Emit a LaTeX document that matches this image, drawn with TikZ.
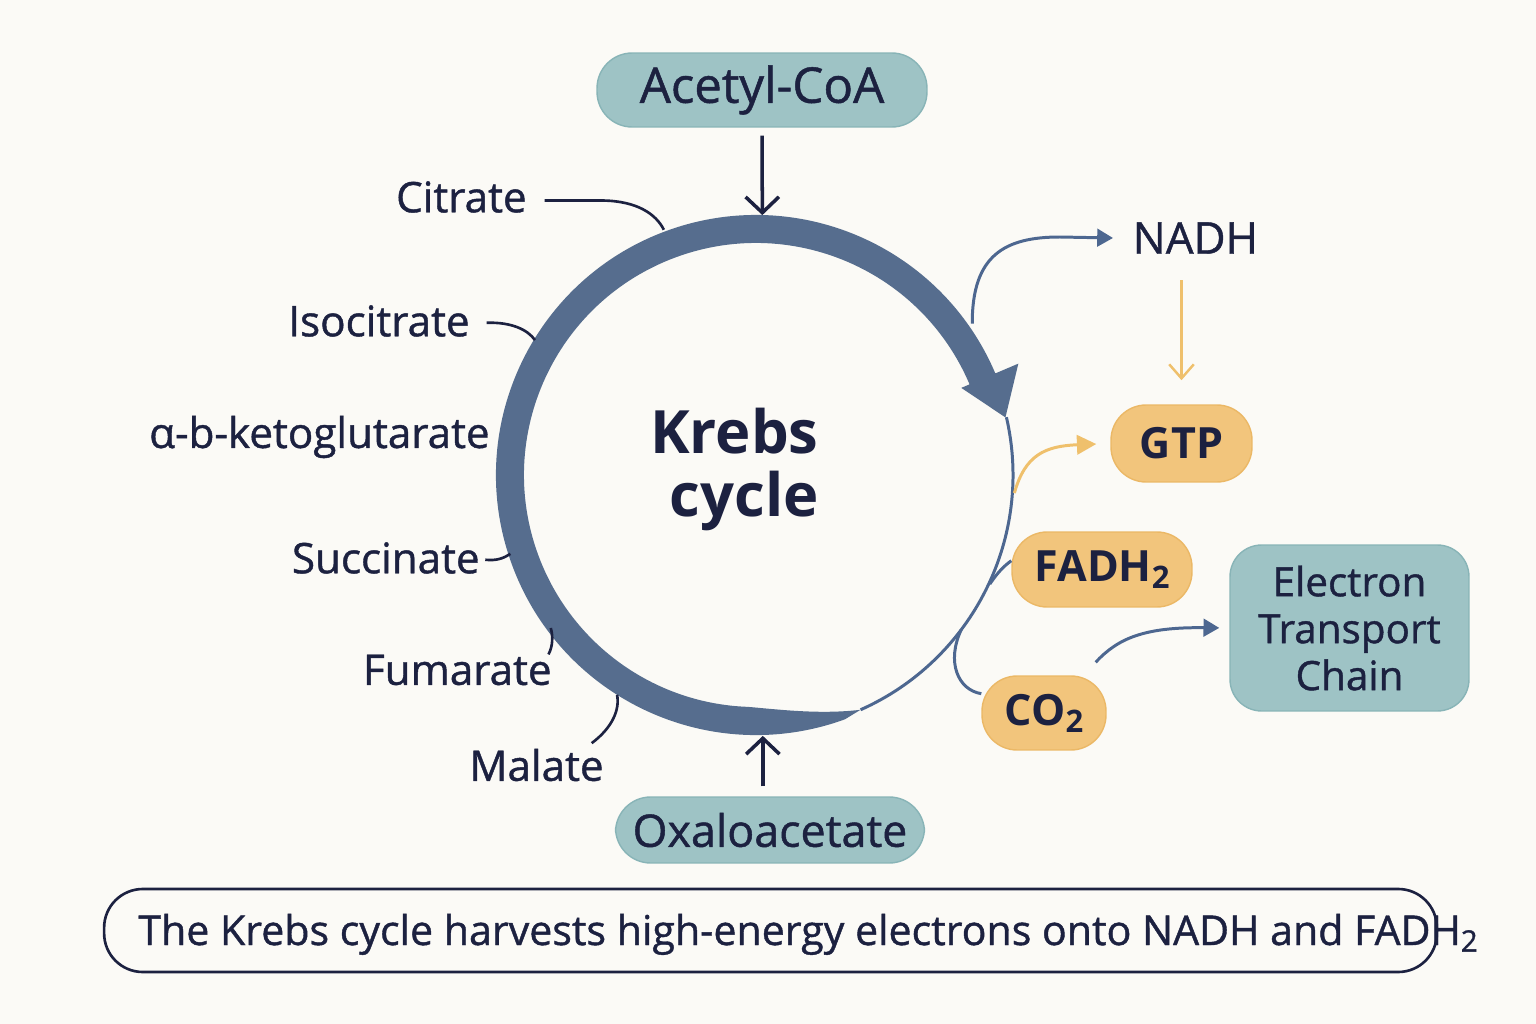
\documentclass[tikz,border=0pt]{standalone}
\usepackage{fontspec}
\setmainfont{Open Sans}[UprightFeatures={FakeBold=1}]
\usepackage{tikz}
\usetikzlibrary{arrows.meta,positioning,calc}
\definecolor{pageBg}{HTML}{FBFAF6}
\definecolor{krebsNavy}{HTML}{1C2140}
\definecolor{krebsRing}{HTML}{566D8E}
\definecolor{krebsSlate}{HTML}{4D6790}
\definecolor{krebsTeal}{HTML}{9EC3C5}
\definecolor{krebsTealEdge}{HTML}{88B4B7}
\definecolor{krebsOrange}{HTML}{F2C57C}
\definecolor{krebsOrangeEdge}{HTML}{EBB866}
\definecolor{krebsGold}{HTML}{EFC06C}
\newcommand{\subtwo}{\raisebox{-0.3ex}{\scalebox{0.72}{2}}}

\begin{document}
\begin{tikzpicture}[x=0.02cm, y=-0.02cm,
  every node/.style={text=krebsNavy},
  pill/.style={rounded corners=20pt,align=center,inner sep=0pt},
  tealbox/.style={pill,fill=krebsTeal,draw=krebsTealEdge,line width=0.8pt},
  orangebox/.style={pill,fill=krebsOrange,draw=krebsOrangeEdge,line width=0.8pt,font=\bfseries\fontsize{24.5}{28}\selectfont},
  metab/.style={inner sep=0pt,anchor=east,font=\fontsize{24}{28}\selectfont},
  leadline/.style={draw=krebsNavy,line width=1.5pt},
  feed/.style={-{Straight Barb[length=9pt,width=19pt]},draw=krebsNavy,line width=2pt},
  goldfeed/.style={-{Straight Barb[length=8pt,width=14pt]},draw=krebsGold,line width=1.4pt},
  prod/.style={-{Triangle[length=9pt,width=10pt]},draw=krebsSlate,line width=1.7pt},
  goldprod/.style={-{Triangle[length=11pt,width=11pt]},draw=krebsGold,line width=1.7pt},
  thinring/.style={draw=krebsSlate,line width=1.7pt}
]
  \useasboundingbox (0,0) rectangle (1536,1024);
  \fill[pageBg] (0,0) rectangle (1536,1024);

  % cycle ring
  \begin{scope}[shift={(756,475)}]
    \fill[krebsRing] (70:260) arc[start angle=70,end angle=337,radius=260]
      -- (337:285) -- (347:256) -- (337:223) -- (337:232)
      arc[start angle=337,end angle=92,radius=232]
      .. controls (84:236) and (75:248) .. (66:257) -- cycle;
    \draw[thinring] (347:257) arc[start angle=347,end angle=426,radius=257];
    \coordinate (ringTop) at (-88.6:260);
    \coordinate (ringBot) at (88.5:261);
    \coordinate (nadhOut) at (-35:264);
    \coordinate (gtpOut) at (4:259);
    \coordinate (fadhOut) at (25:258);
    \coordinate (coOut) at (37:257);
    \coordinate (citOn) at (-110.6:262);
    \coordinate (isoOn) at (-148.6:259);
    \coordinate (succOn) at (162.2:258);
    \coordinate (fumOn) at (143.3:256);
    \coordinate (malOn) at (122.3:260);
  \end{scope}

  \node[inner sep=0pt,anchor=north east,align=right,font=\bfseries\fontsize{34}{36}\selectfont] (krebs) at (819,408) {Krebs\\cycle};

  \node[tealbox,minimum width=6.6cm,minimum height=1.48cm,font=\fontsize{28}{32}\selectfont] (acetyl) at (762,90) {Acetyl-CoA};
  \node[tealbox,minimum width=6.18cm,minimum height=1.32cm,font=\fontsize{25.5}{30}\selectfont] (oxalo) at (770,830) {Oxaloacetate};

  \draw[feed,shorten <=4.5pt] (acetyl.south) -- (ringTop);
  \draw[feed,shorten <=5.7pt] (ringBot |- oxalo.north) -- (ringBot);

  % intermediates
  \node[metab] (citrate) at (527,197) {Citrate};
  \node[metab] (isocit) at (470,321) {Isocitrate};
  \node[metab] (akg) at (490,437) {α-b-ketoglutarate};
  \node[metab] (succ) at (480,558) {Succinate};
  \node[metab] (fum) at (552,670) {Fumarate};
  \node[metab] (mal) at (604,765) {Malate};

  \draw[leadline] ([xshift=10pt,yshift=-2pt]citrate.east) -- ++(58,0) .. controls (637,201) and (656,214) .. (citOn);
  \draw[leadline] ([xshift=9.5pt,yshift=-1pt]isocit.east) .. controls (512,322) and (528,330) .. (isoOn);
  \draw[leadline] ([xshift=3pt,yshift=-1pt]succ.east) .. controls (497,561) and (504,558) .. (succOn);
  \draw[leadline] ([xshift=-2pt]fum.north east) .. controls (553,646) and (553,636) .. (fumOn);
  \draw[leadline] ([xshift=-7pt,yshift=3pt]mal.north east) .. controls (612,728) and (620,710) .. (malOn);

  % products
  \node[inner sep=11pt,anchor=west,font=\fontsize{25}{28}\selectfont] (nadh) at (1113,238) {NADH};
  \node[orangebox,minimum width=2.82cm,minimum height=1.54cm] (gtp) at (1181.5,443.5) {GTP};
  \node[orangebox,minimum width=3.6cm,minimum height=1.5cm] (fadh) at (1102,569.5) {FADH\subtwo};
  \node[orangebox,minimum width=2.48cm,minimum height=1.48cm] (co2) at (1044,713) {CO\subtwo};
  \node[tealbox,rounded corners=18pt,minimum width=4.78cm,minimum height=3.32cm,font=\fontsize{23}{26.7}\selectfont] (etc) at (1349.5,628) {Electron\\Transport\\Chain};
  \coordinate (co2Tail) at ([shift={(-11,-13)}]co2.north east);

  \draw[prod] (nadhOut) .. controls (972,255) and (1005,237) .. (1060,237) -- (nadh.west);
  \draw[goldfeed,shorten <=4pt,shorten >=13.7pt] (nadh.south -| gtp.north) -- (gtp.north);
  \draw[goldprod,shorten >=8pt] (gtpOut) .. controls (1025,455) and (1045,446) .. (gtp.west);
  \draw[thinring] (fadhOut) .. controls (998,572) and (1004,566) .. ([yshift=5pt]fadh.west);
  \draw[thinring] (coOut) .. controls (946,662) and (958,690) .. ([yshift=11pt]co2.west);
  \draw[prod,shorten >=5.7pt] (co2Tail) .. controls (1118,638) and (1145,627) .. (etc.west);

  % summary
  \node[draw=krebsNavy,line width=1.5pt,rounded corners=22pt,minimum width=26.66cm,minimum height=1.66cm] (capbox) at (770.5,930.5) {};
  \node[inner sep=0pt,anchor=base west,font=\fontsize{23.4}{28}\selectfont] (caption) at (138,945) {The Krebs cycle harvests high-energy electrons onto NADH and FADH\subtwo};
\end{tikzpicture}
\end{document}
